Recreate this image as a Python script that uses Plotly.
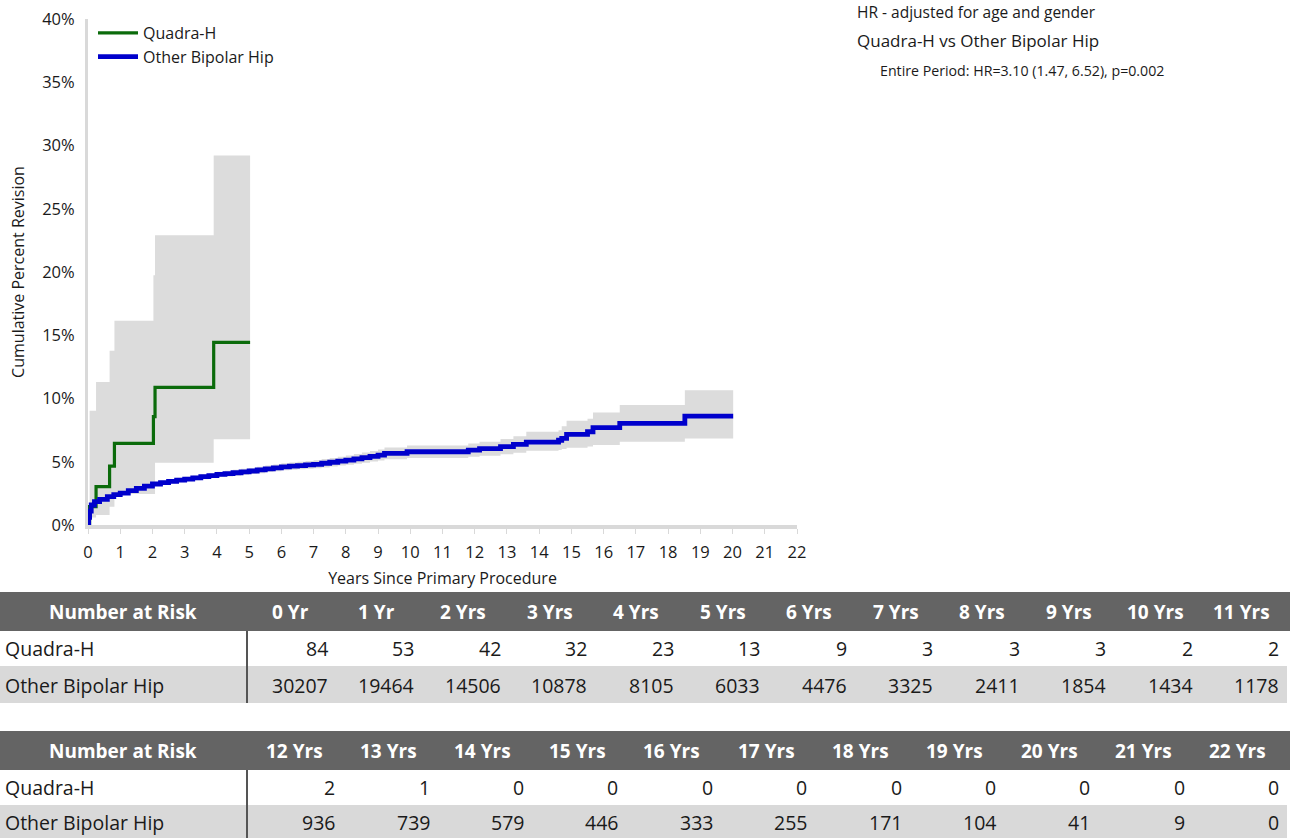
import plotly.graph_objects as go

# ---------------- data ----------------
quadra_t = [0, 0.05, 0.25, 0.67, 0.82, 2.03, 2.08, 3.9, 5.03]
quadra_v = [0, 1.45, 3.03, 4.66, 6.45, 8.56, 10.88, 14.43, 14.43]
quadra_lo = [0, 0.6, 0.79, 1.45, 2.45, 2.45, 4.93, 6.77, 6.77]
quadra_hi = [0, 9.03, 11.3, 13.77, 16.15, 19.75, 22.9, 29.2, 29.2]

other_t = [0, 0.02, 0.05, 0.1, 0.2, 0.36, 0.6, 0.8, 1.0, 1.25,
           1.5, 1.75, 2.0, 2.25, 2.5, 2.75, 3.0, 3.25, 3.5, 3.75,
           4.0, 4.25, 4.5, 4.75, 5.0, 5.25, 5.5, 5.75, 6.0, 6.25,
           6.5, 6.75, 7.0, 7.25, 7.5, 7.75, 8.0, 8.25, 8.5, 8.75,
           9.0, 9.2, 9.9, 11.8, 12.15, 12.8, 13.2, 13.6, 14.6, 14.7,
           14.85, 15.5, 15.67, 16.5, 18.52, 20.02]
other_v = [0, 0.6, 1.1, 1.58, 1.85, 2.03, 2.25, 2.4, 2.52, 2.72,
           2.9, 3.08, 3.24, 3.35, 3.45, 3.55, 3.63, 3.73, 3.82, 3.91,
           4.0, 4.06, 4.13, 4.2, 4.27, 4.35, 4.44, 4.52, 4.6, 4.65,
           4.7, 4.75, 4.8, 4.88, 4.96, 5.05, 5.13, 5.23, 5.33, 5.43,
           5.53, 5.66, 5.79, 5.92, 6.03, 6.2, 6.37, 6.55, 6.7, 6.84,
           7.16, 7.37, 7.69, 8.03, 8.61, 8.61]
other_lo = [0, 0.5, 0.98, 1.45, 1.72, 1.9, 2.12, 2.26, 2.38, 2.57,
            2.75, 2.92, 3.08, 3.18, 3.28, 3.37, 3.45, 3.54, 3.62, 3.71,
            3.79, 3.84, 3.9, 3.96, 4.03, 4.1, 4.18, 4.25, 4.32, 4.36,
            4.4, 4.44, 4.48, 4.55, 4.62, 4.7, 4.77, 4.85, 4.93, 5.02,
            5.1, 5.2, 5.3, 5.4, 5.48, 5.6, 5.72, 5.86, 5.92, 6.0,
            6.1, 6.2, 6.32, 6.58, 6.84, 6.84]
other_hi = [0, 0.7, 1.22, 1.71, 1.98, 2.16, 2.38, 2.54, 2.66, 2.87,
            3.05, 3.24, 3.4, 3.52, 3.62, 3.73, 3.81, 3.92, 4.02, 4.12,
            4.21, 4.28, 4.36, 4.44, 4.51, 4.6, 4.7, 4.79, 4.88, 4.94,
            5.0, 5.06, 5.12, 5.21, 5.3, 5.4, 5.49, 5.61, 5.73, 5.85,
            5.96, 6.12, 6.28, 6.44, 6.58, 6.8, 7.02, 7.37, 7.5, 7.8,
            8.24, 8.4, 8.9, 9.48, 10.66, 10.66]

series_names = ["Quadra-H", "Other Bipolar Hip"]
risk_labels = ["0 Yr", "1 Yr", "2 Yrs", "3 Yrs", "4 Yrs", "5 Yrs", "6 Yrs", "7 Yrs",
               "8 Yrs", "9 Yrs", "10 Yrs", "11 Yrs", "12 Yrs", "13 Yrs", "14 Yrs",
               "15 Yrs", "16 Yrs", "17 Yrs", "18 Yrs", "19 Yrs", "20 Yrs", "21 Yrs", "22 Yrs"]
risk_quadra = [84, 53, 42, 32, 23, 13, 9, 3, 3, 3, 2, 2, 2, 1, 0, 0, 0, 0, 0, 0, 0, 0, 0]
risk_other = [30207, 19464, 14506, 10878, 8105, 6033, 4476, 3325, 2411, 1854, 1434, 1178,
              936, 739, 579, 446, 333, 255, 171, 104, 41, 9, 0]

hr_lines = ["HR - adjusted for age and gender",
            "Quadra-H vs Other Bipolar Hip",
            "Entire Period: HR=3.10 (1.47, 6.52), p=0.002"]

# ---------------- style ----------------
W, H = 1290, 838
ML, MR, MT, MB = 88, 493, 19, 313
PW = W - ML - MR
PH = H - MT - MB
FONT = "Open Sans"
GREEN = "#0B6B0B"
BLUE = "#0000CC"
BAND = "#DCDCDC"
AXIS = "#D9D9D9"
HEAD_BG = "#646464"
ROW_BG = "#D9D9D9"
TXT = "#1A1A1A"


def xp(px):
    return (px - ML) / PW


def yp(py):
    return (MT + PH - py) / PH


fig = go.Figure()

for t, lo, hi in [(other_t, other_lo, other_hi), (quadra_t, quadra_lo, quadra_hi)]:
    fig.add_trace(go.Scatter(x=t, y=lo, mode="lines", line=dict(width=0, shape="hv"),
                             showlegend=False, hoverinfo="skip"))
    fig.add_trace(go.Scatter(x=t, y=hi, mode="lines", line=dict(width=0, shape="hv"),
                             fill="tonexty", fillcolor=BAND, showlegend=False, hoverinfo="skip"))

fig.add_trace(go.Scatter(x=quadra_t, y=quadra_v, mode="lines", name=series_names[0],
                         line=dict(color=GREEN, width=3.2, shape="hv")))
fig.add_trace(go.Scatter(x=other_t, y=other_v, mode="lines", name=series_names[1],
                         line=dict(color=BLUE, width=4.8, shape="hv")))

shapes = []
annots = []

# HR text block
annots.append(dict(text=hr_lines[0], x=xp(855), y=yp(12), xanchor="left", yanchor="middle",
                   font=dict(size=15.5, color=TXT)))
annots.append(dict(text=hr_lines[1], x=xp(855), y=yp(41), xanchor="left", yanchor="middle",
                   font=dict(size=17, color=TXT)))
annots.append(dict(text=hr_lines[2], x=xp(878), y=yp(71), xanchor="left", yanchor="middle",
                   font=dict(size=14.2, color=TXT)))

# Number-at-risk tables
TABLE_RIGHT = 1285
LABEL_COL = 247
tables = [(0, 12, 592, 631, 666, 703), (12, 23, 731, 770, 805, 840)]
for start, end, h0, r1, r2, r3 in tables:
    n = end - start
    cw = (TABLE_RIGHT - LABEL_COL) / n
    shapes.append(dict(type="rect", xref="paper", yref="paper", x0=xp(0), x1=xp(W),
                       y0=yp(r1), y1=yp(h0), fillcolor=HEAD_BG, line=dict(width=0)))
    shapes.append(dict(type="rect", xref="paper", yref="paper", x0=xp(0), x1=xp(TABLE_RIGHT + 2),
                       y0=yp(r3), y1=yp(r2), fillcolor=ROW_BG, line=dict(width=0)))
    shapes.append(dict(type="line", xref="paper", yref="paper", x0=xp(LABEL_COL), x1=xp(LABEL_COL),
                       y0=yp(r3), y1=yp(r1), line=dict(color="#555555", width=2)))
    annots.append(dict(text="<b>Number at Risk</b>", x=xp(123), y=yp((h0 + r1) / 2),
                       xanchor="center", yanchor="middle", font=dict(size=19, color="white")))
    annots.append(dict(text=series_names[0], x=xp(3), y=yp((r1 + r2) / 2),
                       xanchor="left", yanchor="middle", font=dict(size=19.5, color=TXT)))
    annots.append(dict(text=series_names[1], x=xp(3), y=yp((r2 + min(r3, H)) / 2 + 1),
                       xanchor="left", yanchor="middle", font=dict(size=19.5, color=TXT)))
    for k in range(n):
        i = start + k
        right = LABEL_COL + cw * (k + 1)
        annots.append(dict(text="<b>" + risk_labels[i] + "</b>", x=xp(right - cw / 2),
                           y=yp((h0 + r1) / 2), xanchor="center", yanchor="middle",
                           font=dict(size=19, color="white")))
        annots.append(dict(text=str(risk_quadra[i]), x=xp(right - 4), y=yp((r1 + r2) / 2),
                           xanchor="right", yanchor="middle", font=dict(size=19.5, color=TXT)))
        annots.append(dict(text=str(risk_other[i]), x=xp(right - 4), y=yp((r2 + min(r3, H)) / 2 + 1),
                           xanchor="right", yanchor="middle", font=dict(size=19.5, color=TXT)))

for a in annots:
    a.update(xref="paper", yref="paper", showarrow=False)

fig.update_layout(
    width=W, height=H,
    margin=dict(l=ML, r=MR, t=MT, b=MB, autoexpand=False),
    template="none",
    paper_bgcolor="white", plot_bgcolor="white",
    font=dict(family=FONT, size=16, color=TXT),
    showlegend=True,
    legend=dict(x=xp(93), y=yp(16), xanchor="left", yanchor="top", traceorder="normal",
                bgcolor="rgba(0,0,0,0)", font=dict(size=16, color=TXT),
                itemwidth=40, tracegroupgap=0),
    shapes=shapes,
    annotations=annots,
    xaxis=dict(range=[0, 22], tickmode="linear", tick0=0, dtick=1,
               showgrid=False, zeroline=False,
               showline=True, linecolor=AXIS, linewidth=4,
               ticks="outside", ticklen=5, tickcolor=AXIS, tickwidth=1,
               ticklabelstandoff=4,
               tickfont=dict(size=16.5, color=TXT),
               title=dict(text="Years Since Primary Procedure", font=dict(size=16, color=TXT),
                          standoff=12)),
    yaxis=dict(range=[0, 40], tickmode="linear", tick0=0, dtick=5, ticksuffix="%",
               showgrid=False, zeroline=False,
               showline=True, linecolor=AXIS, linewidth=3,
               ticks="", ticklabelstandoff=7,
               tickfont=dict(size=16.5, color=TXT),
               title=dict(text="Cumulative Percent Revision", font=dict(size=16, color=TXT),
                          standoff=14)),
)

fig.write_html("out.html", config={"displayModeBar": False},
               post_script="document.body.style.margin='0px';")
